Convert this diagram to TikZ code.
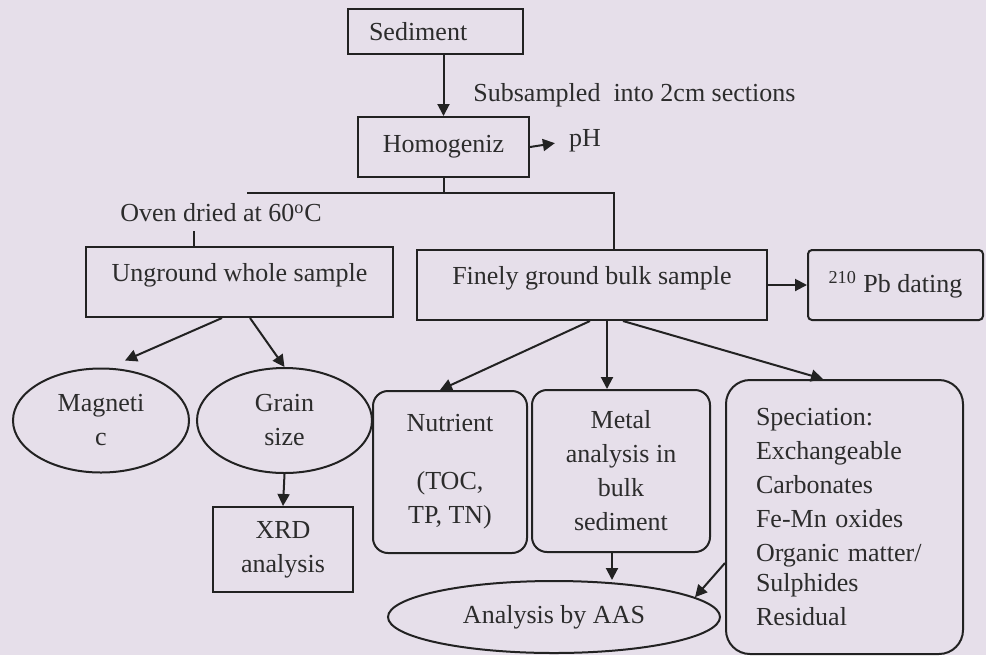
\documentclass[tikz,border=0pt]{standalone}
\usepackage{fontspec}
\setmainfont{Liberation Serif}
\usetikzlibrary{arrows.meta,positioning,shapes.geometric}
\definecolor{paper}{HTML}{E6DFEA}
\definecolor{ink}{HTML}{222222}
\definecolor{ink2}{HTML}{2C2C2C}
\tikzset{
  every node/.style={font=\fontsize{13}{17}\selectfont, text=ink2, inner sep=0pt},
  stage/.style={draw=ink, line width=1pt, align=center},
  test/.style={stage, rounded corners=7.5pt},
  oval/.style={draw=ink, line width=1pt, ellipse, align=center},
  arr/.style={-{Triangle[length=6pt,width=6pt]}, draw=ink, line width=1pt},
  link/.style={draw=ink, line width=1pt},
  wh/.style 2 args={minimum width=#1, minimum height=#2},
}

\begin{document}
\begin{tikzpicture}[x=0.5pt, y=-0.5pt]
% ---- page (px grid) -----------------------------------------------------------
\fill[paper] (0,0) rectangle (986,655);
\useasboundingbox (0,0) rectangle (986,655);
\def\rS{31.5} \def\rH{147} \def\rJ{193} \def\rB{285} \def\rT{420.5}

% ---- preparation --------------------------------------------------------------
\node[stage, wh={87.5pt}{22.5pt}, text width=66.5pt, align=left] (sed) at (435.5, \rS) {Sediment};
\node[anchor=west] (sub) at (473, 95) {Subsampled\ \ into 2cm sections};
\node[stage, wh={85.5pt}{30pt}] (hom) at (443.5, \rH) {Homogeniz};
\node (ph) at (585, 141) {pH};
\coordinate (J)  at (443.5, \rJ);
\coordinate (Jl) at (247, \rJ);
\coordinate (Jr) at (614, \rJ);
\node (oven) at (221, 213) {Oven dried at 60\textsuperscript{o}C};

% ---- sample splits ------------------------------------------------------------
\node[stage, wh={153.5pt}{35pt}, text depth=10pt] (ung)  at (239.5, 282) {Unground whole sample};
\node[stage, wh={175pt}{35pt}, text depth=10pt]   (fine) at (592, \rB) {Finely ground bulk sample};
\node[stage, rounded corners=2pt, wh={87.5pt}{35pt}] (pb) at (895.5, \rB) {\textsuperscript{210} Pb dating};

% ---- unground branch ----------------------------------------------------------
\node[oval, wh={88pt}{52pt}]     (mag)   at (101, \rT) {Magneti\\c};
\node[oval, wh={87.5pt}{52.5pt}] (grain) at (284.5, \rT) {Grain\\size};
\node[stage, wh={70pt}{42.5pt}]  (xrd)   at (283, 549.5) {XRD\\analysis};

% ---- ground branch ------------------------------------------------------------
\node[test, wh={77pt}{81pt}] (nut) at (450, 472) {Nutrient\\[12pt](TOC,\\TP, TN)};
\node[test, wh={89pt}{81pt}] (met) at (621, 471) {Metal\\analysis in\\bulk\\sediment};
\node[test, rounded corners=12pt, wh={118.5pt}{137pt}, text width=88.5pt, align=left] (spe) at (844.5, 517)
  {Speciation:\\Exchangeable\\Carbonates\\Fe-Mn oxides\\Organic matter/\\[-2pt]Sulphides\\Residual};
\node[oval, wh={166pt}{36pt}] (aas) at (554, 617) {Analysis by AAS};

% ---- edges: preparation -------------------------------------------------------
\draw[arr] (hom.north |- sed.south) -- (hom.north);
\draw[arr, shorten >=7pt] (hom.east) -- (ph.west);
\draw[link] (hom.south) -- (J);
\draw[link] (Jl) -- (Jr) -- (Jr |- fine.north);
\draw[link] ([xshift=-22.75pt]ung.north) -- ++(0,-15);

% ---- edges: branches ----------------------------------------------------------
\draw[arr] ([xshift=-8.75pt]ung.south) -- ([xshift=12pt,yshift=3.5pt]mag.north);
\draw[arr] ([xshift=5.25pt]ung.south) -- (grain.north);
\draw[arr] (grain.south) -- (xrd.north);
\draw[arr] (fine.east) -- (pb.west);
\draw[arr] ([xshift=-1pt]fine.south) -- ([xshift=-5pt]nut.north);
\draw[arr] ([xshift=7.5pt]fine.south) -- ([xshift=7.5pt]fine.south |- met.north);
\draw[arr] ([xshift=15.5pt]fine.south) -- ([xshift=-10.75pt]spe.north);
\draw[arr] ([xshift=-4.5pt]met.south) -- ([xshift=-4.5pt]met.south |- aas.north);
\draw[arr] ([yshift=-23pt]spe.west) -- (aas.8);
\end{tikzpicture}
\end{document}
